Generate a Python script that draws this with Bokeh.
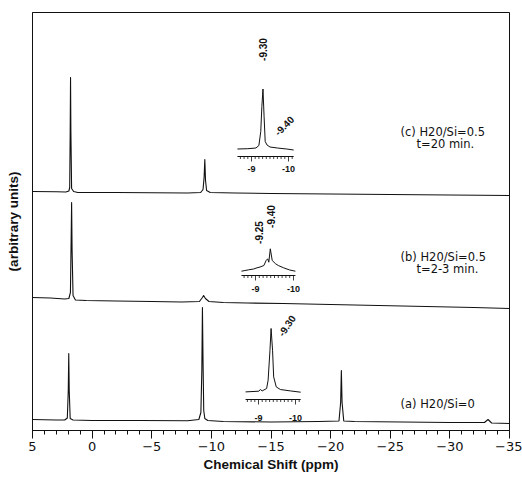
from bokeh.plotting import figure
from bokeh.models import Range1d, FixedTicker, Label
from bokeh.core.properties import value
from bokeh.embed import file_html
from bokeh.resources import INLINE

# ---------------- data ----------------
x_ticks = [5, 0, -5, -10, -15, -20, -25, -30, -35]
x_tick_labels = ["5", "0", "−5", "−10", "−15", "−20", "−25", "−30", "−35"]

# (a) H2O/Si = 0  -- ppm and intensity above its own baseline
a_ppm = [5.0, 3.0, 2.3, 2.08, 2.0, 1.96, 1.92, 1.84, 1.6, 0.0, -4.0, -8.0, -8.95, -9.12, -9.2,
         -9.25, -9.3, -9.36, -9.45, -9.7, -11.0, -15.0, -19.0, -20.7, -20.84, -20.9, -20.96,
         -21.1, -22.0, -26.0, -30.0, -32.9, -33.2, -33.5, -35.0]
a_int = [1.0, 0.5, 0.5, 2.5, 30, 67, 30, 2, 0.5, 0, 0, -0.3, 1, 8, 50,
         113, 60, 10, 2, 0, -1, -1.5, -1, -0.5, 18, 50, 18,
         -0.5, -1, -1.5, -2, -2, 1, -2.5, -3]

# (b) H2O/Si = 0.5, t = 2-3 min
b_ppm = [5.0, 3.5, 2.3, 1.95, 1.82, 1.76, 1.72, 1.68, 1.6, 1.4, 0.5, -2.0, -5.0, -7.5,
         -9.0, -9.25, -9.35, -9.5, -9.8, -11.0, -13.0, -16.0, -20.0, -24.0, -28.0, -32.0, -35.0]
b_int = [3, 2.5, 1.5, 2, 8, 60, 98, 50, 5, 0.5, 0, -0.5, -1, -1.5,
         -1, 3, 5, 2, -1, -2, -2.5, -3, -4, -5, -6, -7, -8]

# (c) H2O/Si = 0.5, t = 20 min
c_ppm = [5.0, 3.0, 2.2, 1.95, 1.88, 1.84, 1.81, 1.78, 1.72, 1.55, 1.2, -2.0, -5.0, -8.0,
         -9.1, -9.3, -9.39, -9.45, -9.51, -9.6, -9.9, -12.0, -15.0, -20.0, -25.0, -30.0, -35.0]
c_int = [1, 0.8, 0.5, 1.5, 5, 60, 115, 60, 4, 1, 0, 0, -0.3, -0.5,
         0, 3, 15, 33, 12, 2, 0, -0.5, -1, -1.5, -2, -2.5, -3]

# expanded insets (ppm, intensity above the inset axis)
ic_ppm = [-8.62, -8.9, -9.12, -9.20, -9.25, -9.28, -9.31, -9.34, -9.37, -9.42, -9.50, -9.70, -9.95, -10.14]
ic_int = [7.5, 7.8, 8.5, 11, 25, 50, 67.5, 40, 15, 11.5, 9.5, 8.5, 7.5, 6.5]

ib_ppm = [-8.63, -8.70, -8.82, -8.95, -9.04, -9.12, -9.22, -9.28, -9.32, -9.35, -9.39, -9.44,
          -9.53, -9.60, -9.74, -9.90, -10.05]
ib_int = [4.3, 4.8, 5.7, 6.5, 7.7, 8.5, 10, 15, 16.7, 13.3, 26.7, 15,
          11.7, 10, 7.7, 5.5, 4.3]

ia_ppm = [-8.65, -9.01, -9.05, -9.10, -9.22, -9.26, -9.31, -9.34, -9.38, -9.41, -9.48, -9.59, -9.86, -10.14]
ia_int = [7.6, 8.3, 10, 8.6, 11, 19.3, 49.3, 71, 49.3, 22.6, 12.6, 10, 8.6, 7.3]

inset_tick_labels = ["-9", "-10"]
inset_tick_values = [-9, -10]

c_peak_labels = ["-9.30", "-9.40"]
b_peak_labels = ["-9.25", "-9.40"]
a_peak_labels = ["-9.30"]

sample_labels = {
    "c": ["(c)  H20/Si=0.5", "t=20  min."],
    "b": ["(b)  H20/Si=0.5", "t=2-3  min."],
    "a": ["(a)  H20/Si=0"],
}

# ---------------- layout constants ----------------
W, H = 522, 486
FL, FR, FT, FB = 32, 509, 12, 430          # frame edges in pixels
OFF = {"a": 10, "b": 130, "c": 238}        # stacking offsets (y units)

# inset placement: (pixel of -9 ppm, px per ppm, axis y, tick-label y, axis ppm start/end)
INS = {
    "c": dict(px=251, s=37.0, y=274, ly=262, x0=-8.62, x1=-10.14),
    "b": dict(px=255, s=38.0, y=155, ly=142, x0=-8.63, x1=-10.05),
    "a": dict(px=258, s=37.0, y=31, ly=13, x0=-8.65, x1=-10.14),
}

TICK_FONT = "DejaVu Sans"
BOLD_FONT = "Liberation Sans"
INK = "#111111"

p = figure(width=W, height=H, x_range=Range1d(5, -35), y_range=Range1d(0, FB - FT),
           output_backend="svg", toolbar_location=None,
           min_border_left=FL, min_border_right=W - FR, min_border_top=FT,
           min_border_bottom=H - FB)
p.xgrid.visible = False
p.ygrid.visible = False
p.outline_line_color = INK
p.outline_line_width = 1
p.background_fill_color = "white"
p.border_fill_color = "white"

# x axis
p.xaxis.ticker = FixedTicker(ticks=x_ticks, minor_ticks=list(range(5, -36, -1)))
p.xaxis.major_label_overrides = {t: l for t, l in zip(x_ticks, x_tick_labels)}
p.xaxis.major_tick_out = 8
p.xaxis.major_tick_in = 0
p.xaxis.minor_tick_out = 4
p.xaxis.minor_tick_in = 0
p.xaxis.major_label_standoff = 3
p.xaxis.major_label_text_font = TICK_FONT
p.xaxis.major_label_text_font_size = "13px"
p.xaxis.major_label_text_color = INK
p.xaxis.axis_line_color = INK
p.xaxis.major_tick_line_color = INK
p.xaxis.minor_tick_line_color = INK
p.xaxis.axis_label = "Chemical Shift (ppm)"
p.xaxis.axis_label_text_font = BOLD_FONT
p.xaxis.axis_label_text_font_style = "bold"
p.xaxis.axis_label_text_font_size = "13.5px"
p.xaxis.axis_label_text_color = INK
p.xaxis.axis_label_standoff = 3

# y axis: label only
p.yaxis.ticker = FixedTicker(ticks=[])
p.yaxis.major_tick_out = 0
p.yaxis.minor_tick_out = 0
p.yaxis.axis_line_color = INK
p.yaxis.axis_label = "(arbitrary units)"
p.yaxis.axis_label_text_font = BOLD_FONT
p.yaxis.axis_label_text_font_style = "bold"
p.yaxis.axis_label_text_font_size = "13.5px"
p.yaxis.axis_label_text_color = INK
p.yaxis.axis_label_standoff = 12

# main spectra
for key, xs, ys in (("a", a_ppm, a_int), ("b", b_ppm, b_int), ("c", c_ppm, c_int)):
    p.line(xs, [OFF[key] + v for v in ys], line_color=INK, line_width=1.1, line_join="round")

# insets drawn on their own x ranges
for key, xs, ys in (("c", ic_ppm, ic_int), ("b", ib_ppm, ib_int), ("a", ia_ppm, ia_int)):
    g = INS[key]
    name = "ins_" + key
    p.extra_x_ranges[name] = Range1d(-9 + (g["px"] - FL) / g["s"], -9 - (FR - g["px"]) / g["s"])
    p.line(xs, [g["y"] + v for v in ys], x_range_name=name, line_color=INK, line_width=1.0,
           line_join="round")
    # inset axis
    p.segment(x0=[g["x0"]], y0=[g["y"]], x1=[g["x1"]], y1=[g["y"]], x_range_name=name,
              line_color=INK, line_width=1.0)
    ticks = [round(-8.7 - 0.1 * i, 2) for i in range(15) if -8.7 - 0.1 * i >= g["x1"] - 1e-6]
    lens = [5 if abs(t - round(t)) < 1e-6 else 2.5 for t in ticks]
    p.segment(x0=ticks, y0=[g["y"]] * len(ticks), x1=ticks, y1=[g["y"] - L for L in lens],
              x_range_name=name, line_color=INK, line_width=0.8)
    p.text(x=inset_tick_values, y=[g["ly"]] * 2, text=inset_tick_labels, x_range_name=name,
           text_font=value(BOLD_FONT), text_font_style="bold", text_font_size="9px",
           text_align="center", text_baseline="middle", text_color=INK)

# peak labels on the insets
lab_kw = dict(text_font=value(BOLD_FONT), text_font_style="bold", text_font_size="10px",
              text_align="center", text_baseline="middle", text_color=INK)
p.text(x=[-9.30, -9.88], y=[381, 305], text=c_peak_labels, angle=[1.5708, 0.785],
       x_range_name="ins_c", **lab_kw)
p.text(x=[-9.10, -9.42], y=[198, 214], text=b_peak_labels, angle=[1.5708, 1.5708],
       x_range_name="ins_b", **lab_kw)
p.text(x=[-9.76], y=[105], text=a_peak_labels, angle=[0.98],
       x_range_name="ins_a", **lab_kw)

# sample descriptions
txt_kw = dict(text_font=TICK_FONT, text_font_size="11.5px", text_color=INK,
              text_align="left", text_baseline="middle")
p.add_layout(Label(x=-25.86, y=299, text=sample_labels["c"][0], **txt_kw))
p.add_layout(Label(x=-27.2, y=287, text=sample_labels["c"][1], **txt_kw))
p.add_layout(Label(x=-25.86, y=174, text=sample_labels["b"][0], **txt_kw))
p.add_layout(Label(x=-27.2, y=162, text=sample_labels["b"][1], **txt_kw))
p.add_layout(Label(x=-25.86, y=27, text=sample_labels["a"][0], **txt_kw))

open("out.html", "w").write(file_html(p, INLINE))
